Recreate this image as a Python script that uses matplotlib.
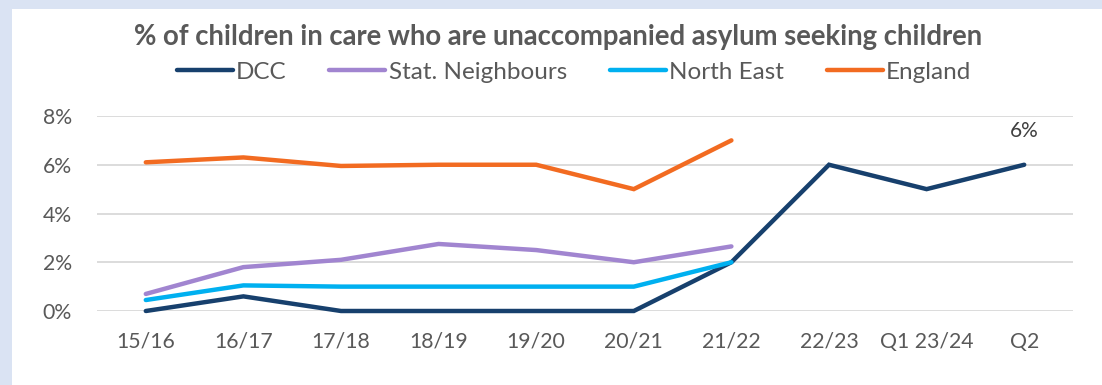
import matplotlib
matplotlib.use("Agg")
import matplotlib.pyplot as plt
from matplotlib.patches import Rectangle
import numpy as np

plt.rcParams['font.family'] = ['Lato', 'DejaVu Sans']

categories = ["15/16", "16/17", "17/18", "18/19", "19/20", "20/21", "21/22", "22/23", "Q1 23/24", "Q2"]
dcc = [0.0, 0.6, 0.0, 0.0, 0.0, 0.0, 2.0, 6.0, 5.0, 6.0]
stat_neighbours = [0.7, 1.8, 2.1, 2.75, 2.5, 2.0, 2.65]
north_east = [0.45, 1.05, 1.0, 1.0, 1.0, 1.0, 2.0]
england = [6.1, 6.3, 5.95, 6.0, 6.0, 5.0, 7.0]
yticks = [0, 2, 4, 6, 8]

TEXT = "#595959"
fig = plt.figure(figsize=(11.02, 3.85), dpi=100)
fig.patch.set_facecolor("#dae3f3")
fig.add_artist(Rectangle((12 / 1102, 0), 1, 1 - 9 / 385, transform=fig.transFigure,
                         facecolor="white", edgecolor="none", zorder=0))

ax = fig.add_axes([97 / 1102, 1 - 311 / 385, (1073 - 97) / 1102, (311 - 116) / 385])
ax.set_facecolor("none")

x = np.arange(len(categories))
series = [
    ("DCC", dcc, "#17406d"),
    ("Stat. Neighbours", stat_neighbours, "#a185d0"),
    ("North East", north_east, "#00b0f0"),
    ("England", england, "#f26b21"),
]
lines = []
for name, vals, col in series:
    ln, = ax.plot(x[:len(vals)], vals, color=col, lw=3.2, label=name, clip_on=False,
                  solid_capstyle="round", solid_joinstyle="miter", zorder=3)
    lines.append(ln)

ax.annotate(f"{dcc[-1]:.0f}%", (x[-1], dcc[-1]), xytext=(0, 17), textcoords="offset points",
            ha="center", va="bottom", fontsize=15, color="#404040")

ax.set_xlim(-0.5, len(categories) - 0.5)
ax.set_ylim(0, 8)
ax.set_yticks(yticks)
ax.set_yticklabels([f"{v}%" for v in yticks])
ax.set_xticks(x)
ax.set_xticklabels(categories)
ax.tick_params(axis="both", length=0, colors=TEXT, labelsize=15.3)
ax.tick_params(axis="x", pad=15)
ax.tick_params(axis="y", pad=18)
ax.grid(axis="y", color="#d9d9d9", lw=1.3)
ax.set_axisbelow(True)
for s in ax.spines.values():
    s.set_visible(False)

fig.text(558 / 1102, 1 - 37 / 385, "% of children in care who are unaccompanied asylum seeking children",
         ha="center", va="center", fontsize=19.8, fontweight="bold", color=TEXT)
fig.legend(handles=lines, loc="center", bbox_to_anchor=(574 / 1102, 1 - 72 / 385), ncol=4,
           frameon=False, fontsize=17.5, labelcolor=TEXT, handlelength=2.3, handletextpad=0.15,
           columnspacing=1.75)

fig.savefig("out.png", dpi=100)
